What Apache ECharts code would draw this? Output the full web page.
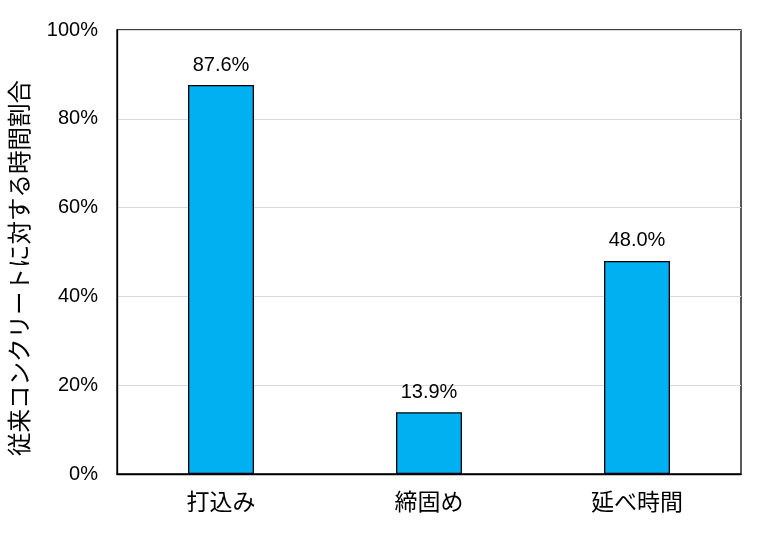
<!DOCTYPE html>
<html><head><meta charset="utf-8">
<script src="https://cdn.jsdelivr.net/npm/echarts@6/dist/echarts.min.js"></script>
<style>html,body{margin:0;padding:0;background:#fff}#c{width:768px;height:540px}</style>
</head><body><div id="c"></div>
<script>
const categories = ['打込み', '締固め', '延べ時間'];
const values = [87.6, 13.9, 48.0];
const yTicks = [0, 20, 40, 60, 80, 100];
const yName = '従来コンクリートに対する時間割合';

const chart = echarts.init(document.getElementById('c'));
chart.setOption({
  animation: false,
  grid: { left: 117, right: 27, top: 30, bottom: 66, containLabel: false, outerBoundsMode: 'none', show: true, borderColor: '#000', borderWidth: 1.3, backgroundColor: 'transparent' },
  xAxis: {
    type: 'category', data: categories,
    axisLine: { lineStyle: { color: '#000', width: 1.3 } },
    axisTick: { show: false },
    axisLabel: { color: '#000', fontSize: 23, fontFamily: 'Noto Sans CJK JP', margin: 16 }
  },
  yAxis: {
    type: 'value', min: yTicks[0], max: yTicks[yTicks.length - 1], interval: 20,
    name: yName, nameLocation: 'middle', nameGap: 86,
    nameTextStyle: { color: '#000', fontSize: 23.5, fontFamily: 'Noto Sans CJK JP', padding: [0, 32, 0, 0] },
    axisLine: { show: true, lineStyle: { color: '#000', width: 1.3 } },
    axisTick: { show: false },
    splitLine: { lineStyle: { color: '#d9d9d9', width: 1 } },
    axisLabel: { color: '#000', fontSize: 20, fontFamily: 'Liberation Sans', margin: 19, formatter: v => v + '%' }
  },
  series: [{
    type: 'bar', data: values, barWidth: 66,
    itemStyle: { color: '#00B0F0', borderColor: '#000', borderWidth: 1.3 },
    label: { show: true, position: 'top', distance: 10, color: '#000', fontSize: 20, fontFamily: 'Liberation Sans', formatter: p => p.value.toFixed(1) + '%' }
  }]
});
</script></body></html>
